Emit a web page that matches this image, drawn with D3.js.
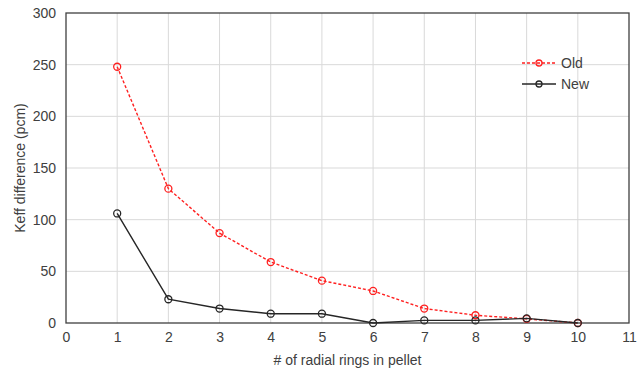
<!DOCTYPE html>
<html lang="en">
<head>
    <meta charset="UTF-8">
    <title>Keff difference</title>
    <script src="https://d3js.org/d3.v7.min.js"></script>
    <style>
        body { margin: 0; background: #fff; }
        text { font-family: "Liberation Sans", Arial, sans-serif; }
    </style>
</head>
<body>
    <div id="chart"></div>
    <script>
        // data
        var rings = [1, 2, 3, 4, 5, 6, 7, 8, 9, 10];
        var oldValues = [248, 130, 87, 59, 41, 31, 14, 7.5, 4, 0];
        var newValues = [106, 23, 14, 9, 9, 0, 2.5, 2.5, 4.5, 0];
        var xTicks = d3.range(0, 12);
        var yTicks = [0, 50, 100, 150, 200, 250, 300];
        var seriesNames = ["Old", "New"];

        var width = 643, height = 370;
        var margin = {top: 13, right: 14, bottom: 47, left: 66};

        var svg = d3.select("#chart").append("svg")
            .attr("width", width)
            .attr("height", height);

        var x = d3.scaleLinear().domain([0, 11]).range([margin.left, width - margin.right]);
        var y = d3.scaleLinear().domain([0, 300]).range([height - margin.bottom, margin.top]);

        // grid
        svg.append("g").selectAll("line.v")
            .data(xTicks.slice(1, -1))
            .enter().append("line")
            .attr("x1", d => x(d)).attr("x2", d => x(d))
            .attr("y1", y(0)).attr("y2", y(300))
            .attr("stroke", "#d9d9d9").attr("stroke-width", 1);
        svg.append("g").selectAll("line.h")
            .data(yTicks.slice(1, -1))
            .enter().append("line")
            .attr("x1", x(0)).attr("x2", x(11))
            .attr("y1", d => y(d)).attr("y2", d => y(d))
            .attr("stroke", "#d9d9d9").attr("stroke-width", 1);

        // frame
        svg.append("rect")
            .attr("x", x(0)).attr("y", y(300))
            .attr("width", x(11) - x(0)).attr("height", y(0) - y(300))
            .attr("fill", "none").attr("stroke", "#404040").attr("stroke-width", 1.3);

        // axes
        var xAxis = svg.append("g")
            .attr("transform", "translate(0," + y(0) + ")")
            .call(d3.axisBottom(x).tickValues(xTicks).tickSize(0).tickPadding(9));
        var yAxis = svg.append("g")
            .attr("transform", "translate(" + x(0) + ",0)")
            .call(d3.axisLeft(y).tickValues(yTicks).tickSize(0).tickPadding(10));
        [xAxis, yAxis].forEach(function(g) {
            g.select(".domain").remove();
            g.selectAll("text").attr("font-size", 14).attr("fill", "#404040")
                .attr("font-family", "'Liberation Sans', Arial, sans-serif");
        });

        svg.append("text")
            .attr("x", (x(0) + x(11)) / 2).attr("y", 365)
            .attr("text-anchor", "middle").attr("font-size", 14).attr("fill", "#404040")
            .text("# of radial rings  in pellet");
        svg.append("text")
            .attr("transform", "translate(25," + ((y(0) + y(300)) / 2) + ") rotate(-90)")
            .attr("text-anchor", "middle").attr("font-size", 14).attr("fill", "#404040")
            .text("Keff difference (pcm)");

        var styles = {
            Old: {values: oldValues, color: "#ff2020", dash: "3,2"},
            New: {values: newValues, color: "#262626", dash: null}
        };

        var line = d3.line().x(d => x(d[0])).y(d => y(d[1]));

        seriesNames.forEach(function(name) {
            var s = styles[name];
            var pts = rings.map((r, i) => [r, s.values[i]]);
            svg.append("path")
                .datum(pts)
                .attr("d", line)
                .attr("fill", "none")
                .attr("stroke", s.color)
                .attr("stroke-width", 1.4)
                .attr("stroke-dasharray", s.dash);
            svg.append("g").selectAll("circle")
                .data(pts)
                .enter().append("circle")
                .attr("cx", d => x(d[0])).attr("cy", d => y(d[1]))
                .attr("r", 3.5)
                .attr("fill", "none")
                .attr("stroke", s.color)
                .attr("stroke-width", 1.3);
        });

        // legend
        var legend = svg.append("g").attr("transform", "translate(522,63)");
        seriesNames.forEach(function(name, i) {
            var s = styles[name];
            var g = legend.append("g").attr("transform", "translate(0," + i * 21 + ")");
            g.append("line").attr("x1", 0).attr("x2", 34).attr("y1", 0).attr("y2", 0)
                .attr("stroke", s.color).attr("stroke-width", 1.4).attr("stroke-dasharray", s.dash);
            g.append("circle").attr("cx", 17).attr("cy", 0).attr("r", 3)
                .attr("fill", "none").attr("stroke", s.color).attr("stroke-width", 1.3);
            g.append("text").attr("x", 39).attr("y", 5)
                .attr("font-size", 14).attr("fill", "#404040").text(name);
        });
    </script>
</body>
</html>
